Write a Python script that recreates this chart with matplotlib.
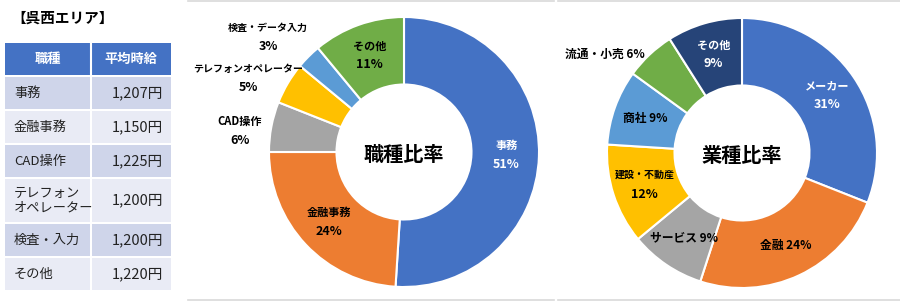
import numpy as np
import matplotlib.pyplot as plt
from matplotlib.patches import Rectangle

plt.rcParams['font.family'] = ['Noto Sans CJK JP', 'DejaVu Sans']

# table data
area_title = '【呉西エリア】'
table_header = ['職種', '平均時給']
job_types = ['事務', '金融事務', 'CAD操作', 'テレフォン\nオペレーター', '検査・入力', 'その他']
wages = [1207, 1150, 1225, 1200, 1200, 1220]

# pie 1 data
job_labels = ['事務', '金融事務', 'CAD操作', 'テレフォンオペレーター', '検査・データ入力', 'その他']
job_share = [51, 24, 6, 5, 3, 11]

# pie 2 data
ind_labels = ['メーカー', '金融', 'サービス', '建設・不動産', '商社', '流通・小売', 'その他']
ind_share = [31, 24, 9, 12, 9, 6, 9]

office = ['#4472C4', '#ED7D31', '#A5A5A5', '#FFC000', '#5B9BD5', '#70AD47', '#264478']

W, H = 900, 302
fig = plt.figure(figsize=(9, 3.02), dpi=100)

# background axes in pixel coordinates (y down)
bg = fig.add_axes([0, 0, 1, 1])
bg.set_xlim(0, W)
bg.set_ylim(H, 0)
bg.axis('off')

# faint panel borders
for x0, x1 in [(188, 554), (558, 900)]:
    bg.plot([x0, x1], [1, 1], color='#D9D9D9', lw=1.2)
    bg.plot([x0, x1], [300, 300], color='#D9D9D9', lw=1.2)

# ---- table ----
bg.text(63, 18, area_title, ha='center', va='center', fontsize=10.5,
        fontweight='bold', color='black')
tx0, tsplit, tx1 = 5, 91, 171
top = 43
hdr_h = 32
bg.add_patch(Rectangle((tx0, top), tx1 - tx0, hdr_h, color='#4472C4', lw=0))
bg.plot([tsplit, tsplit], [top, top + hdr_h], color='white', lw=1.5)
bg.text((tx0 + tsplit) / 2, top + hdr_h / 2, table_header[0], ha='center', va='center',
        color='white', fontsize=9.5, fontweight='bold')
bg.text((tsplit + tx1) / 2, top + hdr_h / 2, table_header[1], ha='center', va='center',
        color='white', fontsize=9.5, fontweight='bold')

y = top + hdr_h + 2
for i, (name, wage) in enumerate(zip(job_types, wages)):
    rh = 32 + 11 * name.count('\n')
    fc = '#CFD5EA' if i % 2 == 0 else '#E9EBF5'
    bg.add_patch(Rectangle((tx0, y), tsplit - tx0 - 1, rh, color=fc, lw=0))
    bg.add_patch(Rectangle((tsplit + 1, y), tx1 - tsplit - 1, rh, color=fc, lw=0))
    bg.text(tx0 + 9, y + rh / 2, name, ha='left', va='center', fontsize=9.5,
            color='#222222', linespacing=1.15)
    bg.text(tx1 - 8, y + rh / 2, f'{wage:,}円', ha='right', va='center', fontsize=10.5,
            color='#222222')
    y += rh + 2

# ---- donuts ----
R = 135.0
GAP = 9.5 / R


def donut(cx, cy, x0, x1, values, labels, colors, center_text, one_line, outside,
          white_labels):
    ax = fig.add_axes([x0 / W, 0, (x1 - x0) / W, 1])
    wedges, _ = ax.pie(values, colors=colors, startangle=90, counterclock=False,
                       radius=1.0, wedgeprops=dict(width=0.5, edgecolor='white', linewidth=1.5))
    ax.set_aspect('auto')
    ax.set_xlim((x0 - cx) / R, (x1 - cx) / R)
    ax.set_ylim(-(H - cy) / R, cy / R)
    ax.axis('off')
    ax.text(0, -0.02, center_text, ha='center', va='center', fontsize=14.5,
            fontweight='bold', color='black')
    for w, lab, val in zip(wedges, labels, values):
        if lab in outside:
            px, py = outside[lab]
        else:
            ang = np.deg2rad((w.theta1 + w.theta2) / 2)
            px, py = 0.76 * np.cos(ang), 0.76 * np.sin(ang)
        col = 'white' if lab in white_labels else 'black'
        name_fs = 8 if len(lab) <= 5 else 7.2
        if lab in one_line:
            ax.text(px, py, f'{lab} {val}%', ha='center', va='center', fontsize=8.5,
                    fontweight='bold', color=col)
        else:
            ax.text(px, py + GAP, lab, ha='center', va='center', fontsize=name_fs,
                    fontweight='bold', color=col)
            ax.text(px, py - GAP, f'{val}%', ha='center', va='center', fontsize=9,
                    fontweight='bold', color=col)
    return ax


donut(404, 152, 188, 554, job_share, job_labels, office[:6], '職種比率',
      one_line=[],
      outside={'CAD操作': (-1.215, 0.156), 'テレフォンオペレーター': (-1.156, 0.548),
               '検査・データ入力': (-1.007, 0.852)},
      white_labels=['事務'])

donut(742, 153, 558, 900, ind_share, ind_labels, office, '業種比率',
      one_line=['金融', 'サービス', '商社', '流通・小売'],
      outside={'流通・小売': (-1.015, 0.733)},
      white_labels=['メーカー', 'その他'])

fig.savefig('out.png', dpi=100)
